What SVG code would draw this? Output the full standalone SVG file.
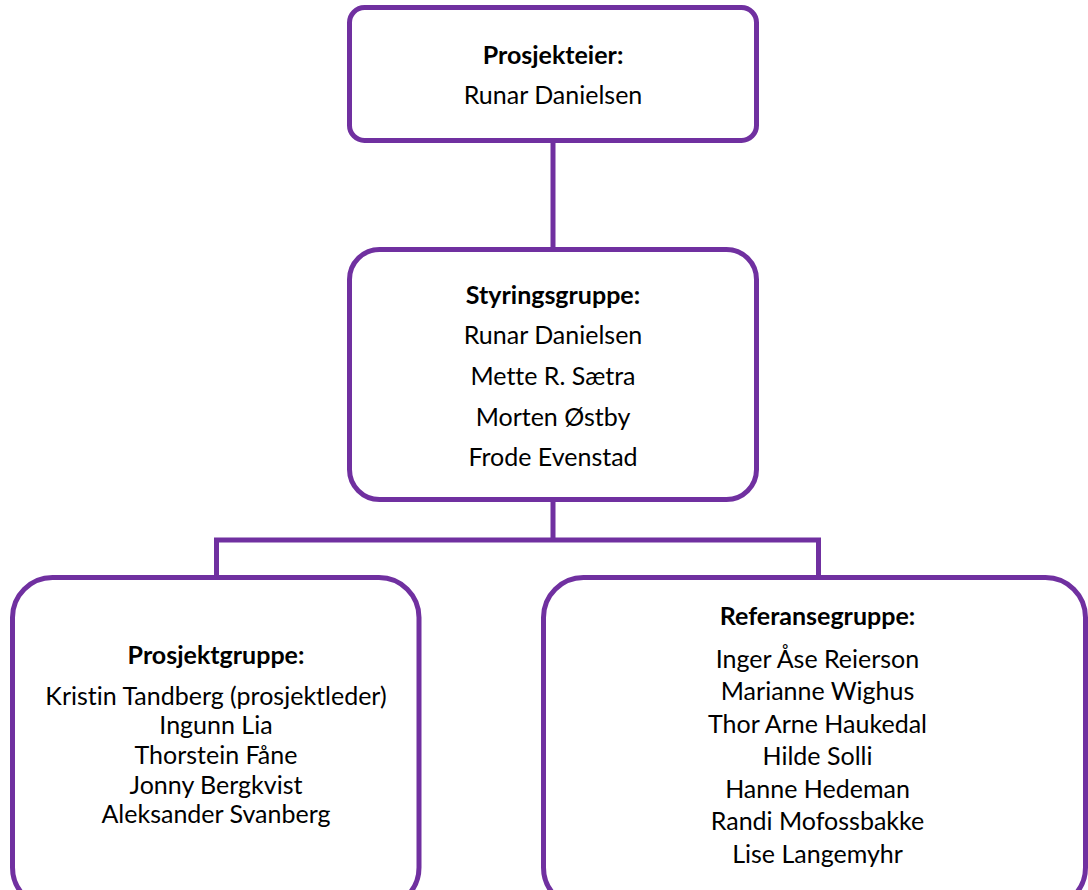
<svg xmlns="http://www.w3.org/2000/svg" width="1088" height="890" viewBox="0 0 1088 890">
<style>
.box{fill:#ffffff;stroke:#7030A0;stroke-width:5}
.conn{fill:none;stroke:#7030A0;stroke-width:5}
text{font-family:Lato,"Open Sans",sans-serif;font-size:25px;fill:#000;text-anchor:middle;font-variant-ligatures:none}
.h{font-weight:bold}
</style>
<rect width="1088" height="890" fill="#ffffff"/>
<g id="connectors">
<path class="conn" d="M553,140 V250"/>
<path class="conn" d="M553,500 V540 M216.5,540 H818.5 M216.5,537.5 V578 M818.5,537.5 V578"/>
</g>
<g id="prosjekteier">
<rect class="box" x="349.5" y="7.5" width="407" height="133" rx="15"/>
<text class="h" x="553" y="64">Prosjekteier:</text>
<text x="553" y="104">Runar Danielsen</text>
</g>
<g id="styringsgruppe">
<rect class="box" x="349.5" y="249.5" width="407" height="250" rx="30"/>
<text class="h" x="553" y="304">Styringsgruppe:</text>
<text x="553" y="344">Runar Danielsen</text>
<text x="553" y="385">Mette R. Sætra</text>
<text x="553" y="426">Morten Østby</text>
<text x="553" y="466">Frode Evenstad</text>
</g>
<g id="prosjektgruppe">
<rect class="box" x="12.5" y="577.5" width="406.5" height="330" rx="40"/>
<text class="h" x="216" y="664">Prosjektgruppe:</text>
<text x="216" y="705">Kristin Tandberg (prosjektleder)</text>
<text x="216" y="734">Ingunn Lia</text>
<text x="216" y="764">Thorstein Fåne</text>
<text x="216" y="794">Jonny Bergkvist</text>
<text x="216" y="823">Aleksander Svanberg</text>
</g>
<g id="referansegruppe">
<rect class="box" x="543.5" y="577.5" width="542" height="330" rx="40"/>
<text class="h" x="817.5" y="625">Referansegruppe:</text>
<text x="817.5" y="668">Inger Åse Reierson</text>
<text x="817.5" y="700">Marianne Wighus</text>
<text x="817.5" y="733">Thor Arne Haukedal</text>
<text x="817.5" y="765">Hilde Solli</text>
<text x="817.5" y="798">Hanne Hedeman</text>
<text x="817.5" y="830">Randi Mofossbakke</text>
<text x="817.5" y="863">Lise Langemyhr</text>
</g>
</svg>
